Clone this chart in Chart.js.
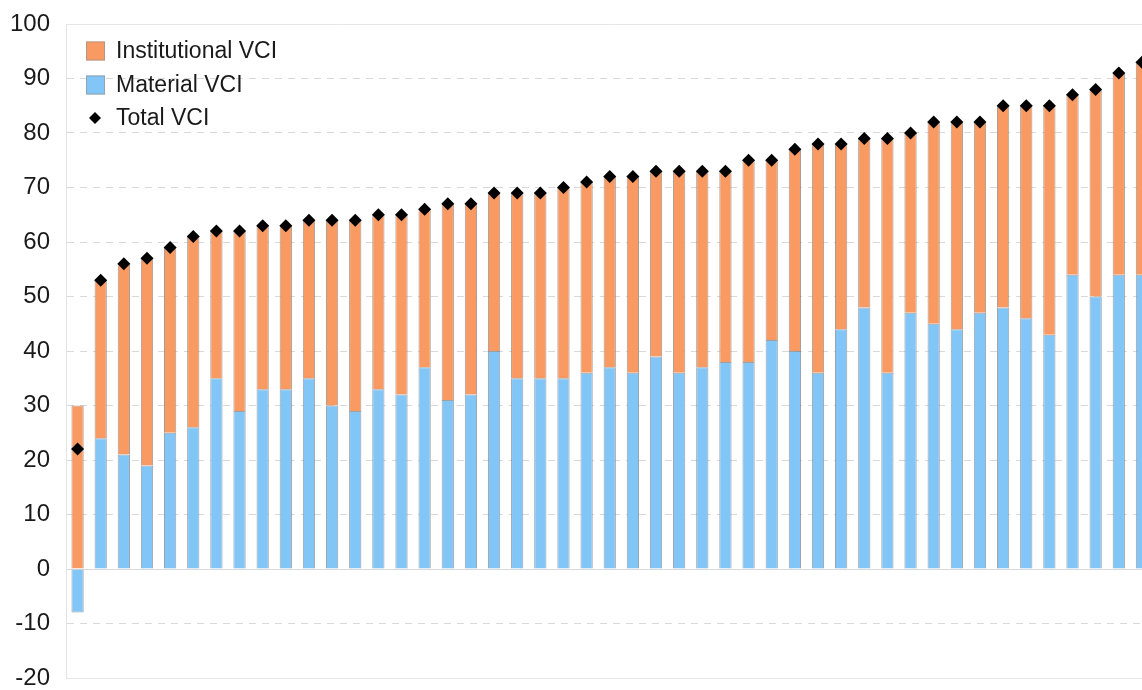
<!DOCTYPE html>
<html>
<head>
<meta charset="utf-8">
<script src="https://cdn.jsdelivr.net/npm/chart.js@4"></script>
<style>
  html, body { margin: 0; padding: 0; background: #ffffff; overflow: hidden; }
  #wrap { width: 1160px; height: 690px; }
</style>
</head>
<body>
<div id="wrap"><canvas id="c" width="1160" height="690"></canvas></div>
<script>
const categories = ["1","2","3","4","5","6","7","8","9","10","11","12","13","14","15","16","17","18","19","20","21","22","23","24","25","26","27","28","29","30","31","32","33","34","35","36","37","38","39","40","41","42","43","44","45","46","47"];
const materialVCI = [-8,24,21,19,25,26,35,29,33,33,35,30,29,33,32,37,31,32,40,35,35,35,36,37,36,39,36,37,38,38,42,40,36,44,48,36,47,45,44,47,48,46,43,54,50,54,54];
const institutionalVCI = [30,29,35,38,34,35,27,33,30,30,29,34,35,32,33,29,36,35,29,34,34,35,35,35,36,34,37,36,35,37,33,37,42,34,31,43,33,37,38,35,37,39,42,33,38,37,39];
const totalVCI = [22,53,56,57,59,61,62,62,63,63,64,64,64,65,65,66,67,67,69,69,69,70,71,72,72,73,73,73,73,75,75,77,78,78,79,79,80,82,82,82,85,85,85,87,88,91,93];
const yTicks = [-20,-10,0,10,20,30,40,50,60,70,80,90,100];

const ORANGE = '#F99A63';
const BLUE = '#82C6F8';
const FONT = "'Liberation Sans', Arial, sans-serif";

const legendPlugin = {
  id: 'insideLegend',
  afterDraw(chart) {
    const ctx = chart.ctx;
    const ds = chart.data.datasets;
    const items = [ds[1], ds[0], ds[2]];
    const x0 = 86, rowY = [51, 85, 118];
    ctx.save();
    ctx.font = "23px " + FONT;
    ctx.textBaseline = 'middle';
    ctx.textAlign = 'left';
    items.forEach((d, i) => {
      const cy = rowY[i];
      if (d.type === 'line') {
        const cx = 95, r = 6;
        ctx.fillStyle = '#000';
        ctx.beginPath();
        ctx.moveTo(cx, cy - r); ctx.lineTo(cx + r, cy); ctx.lineTo(cx, cy + r); ctx.lineTo(cx - r, cy);
        ctx.closePath(); ctx.fill();
      } else {
        ctx.fillStyle = d.backgroundColor;
        ctx.fillRect(x0, cy - 9.5, 19, 19);
        ctx.strokeStyle = 'rgba(150,150,150,0.7)';
        ctx.lineWidth = 1;
        ctx.strokeRect(x0 + 0.5, cy - 9, 18, 18);
      }
      ctx.fillStyle = '#1a1a1a';
      ctx.fillText(d.label, 116, cy + 1);
    });
    ctx.restore();
  }
};

new Chart(document.getElementById('c'), {
  data: {
    labels: categories,
    datasets: [
      { type: 'bar', label: 'Material VCI', data: materialVCI, backgroundColor: BLUE,
        borderColor: 'rgba(120,130,140,0.75)', borderWidth: 1, stack: 'vci', order: 1,
        barPercentage: 0.53, categoryPercentage: 1.0 },
      { type: 'bar', label: 'Institutional VCI', data: institutionalVCI, backgroundColor: ORANGE,
        borderColor: 'rgba(140,120,110,0.75)', borderWidth: 1, stack: 'vci', order: 1,
        barPercentage: 0.53, categoryPercentage: 1.0 },
      { type: 'line', label: 'Total VCI', data: totalVCI, showLine: false, stack: 'total', order: 0,
        pointStyle: 'rectRot', pointRadius: 6.5, pointBackgroundColor: '#000', pointBorderColor: '#000',
        pointBorderWidth: 0 }
    ]
  },
  options: {
    responsive: false,
    animation: false,
    layout: { padding: { top: 24, bottom: 12, left: 0, right: 5 } },
    plugins: { legend: { display: false }, tooltip: { enabled: false } },
    scales: {
      x: { display: false, stacked: true, offset: true, grid: { display: false } },
      y: {
        stacked: true,
        min: -20, max: 100,
        afterBuildTicks: (scale) => { scale.ticks = yTicks.map(v => ({ value: v })); },
        afterFit: (scale) => { scale.width = 66; scale.paddingTop = 0; scale.paddingBottom = 0; },
        ticks: { font: { family: FONT, size: 24 }, color: '#1a1a1a', padding: 16 },
        grid: {
          drawTicks: false,
          color: (ctx) => (ctx.tick && (ctx.tick.value === 100 || ctx.tick.value === -20)) ? '#e6e6e6' : '#d9d9d9',
          lineWidth: 1
        },
        border: {
          display: true, color: '#e3e3e3', width: 1,
          dash: (ctx) => (ctx.tick && (ctx.tick.value === 100 || ctx.tick.value === -20 || ctx.tick.value === 0)) ? [] : [7, 6]
        }
      }
    }
  },
  plugins: [legendPlugin]
});
</script>
</body>
</html>
